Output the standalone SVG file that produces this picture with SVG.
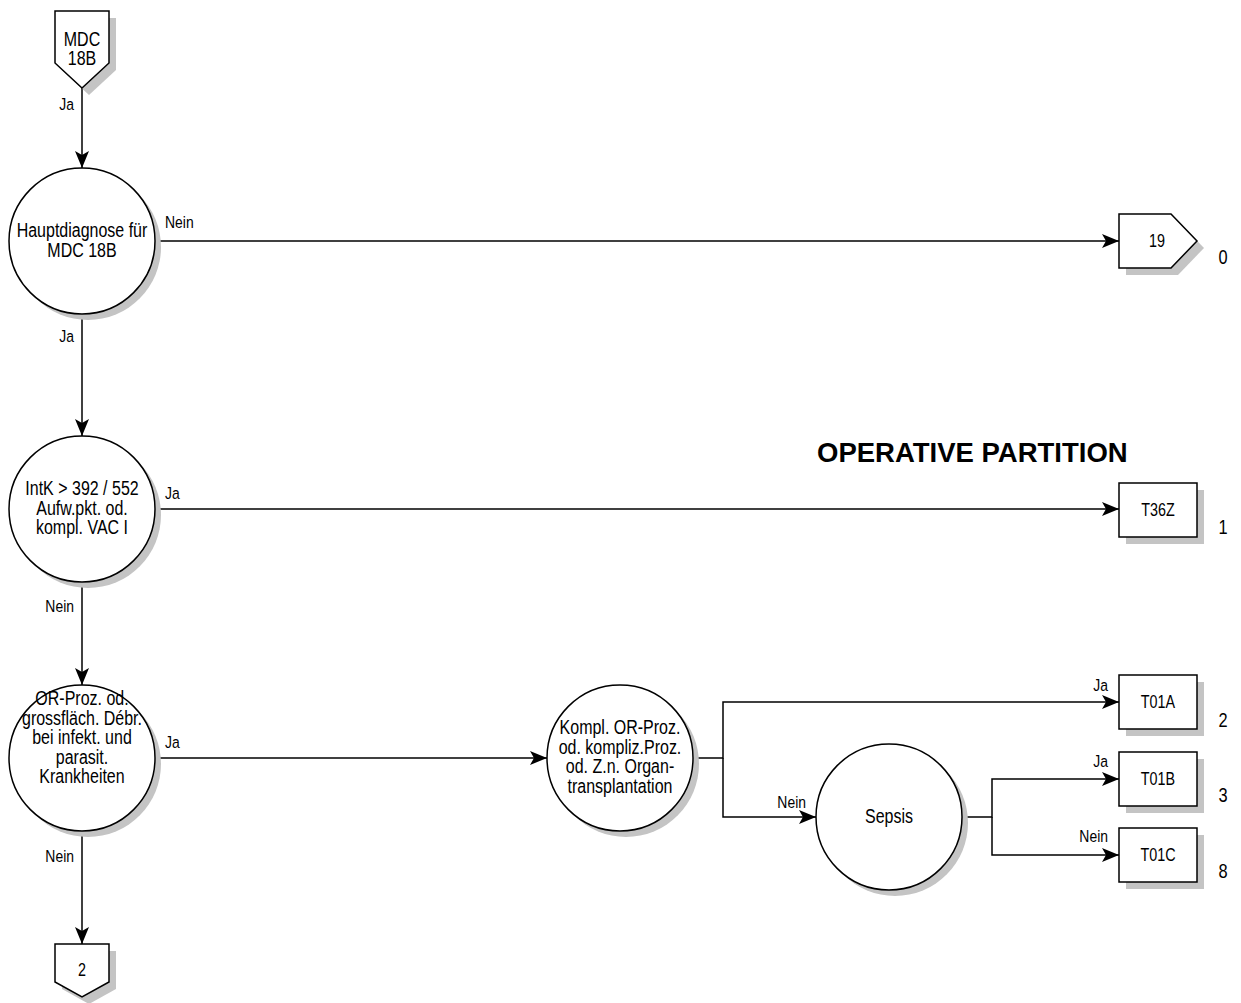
<svg xmlns="http://www.w3.org/2000/svg" width="1241" height="1003" viewBox="0 0 1241 1003">
<defs>
<style>
.n{fill:#fff;stroke:#000;stroke-width:1.5}
.sh{fill:#c4c4c4;stroke:none}
.c{fill:none;stroke:#000;stroke-width:1.5}
text{font-family:"Liberation Sans",Arial,sans-serif;fill:#000}
.t{font-size:19.5px;text-anchor:middle}
.l{font-size:17px}
.e{text-anchor:end}
.b{font-size:17.5px;text-anchor:middle}
.num{font-size:20px;text-anchor:middle}
.title{font-weight:bold;font-size:27.5px}
</style>
<marker id="arr" markerUnits="userSpaceOnUse" markerWidth="20" markerHeight="16" refX="17" refY="7" orient="auto">
<path d="M17,7 L0,0 L4,7 L0,14 Z" fill="#000"/>
</marker>
</defs>
<rect width="1241" height="1003" fill="#fff"/>

<g id="connectors">
<line class="c" x1="82" y1="88" x2="82" y2="168" marker-end="url(#arr)"/>
<line class="c" x1="155" y1="241" x2="1119" y2="241" marker-end="url(#arr)"/>
<line class="c" x1="82" y1="314" x2="82" y2="436" marker-end="url(#arr)"/>
<line class="c" x1="155" y1="509" x2="1119" y2="509" marker-end="url(#arr)"/>
<line class="c" x1="82" y1="582" x2="82" y2="685" marker-end="url(#arr)"/>
<line class="c" x1="155" y1="758" x2="547" y2="758" marker-end="url(#arr)"/>
<line class="c" x1="82" y1="831" x2="82" y2="944" marker-end="url(#arr)"/>
<polyline class="c" points="693,758 723,758 723,702 1119,702" marker-end="url(#arr)"/>
<polyline class="c" points="723,758 723,817 816,817" marker-end="url(#arr)"/>
<polyline class="c" points="962,817 992,817 992,779 1119,779" marker-end="url(#arr)"/>
<polyline class="c" points="992,817 992,855 1119,855" marker-end="url(#arr)"/>
<text class="l e" transform="translate(74,110) scale(0.82,1)">Ja</text>
<text class="l" transform="translate(165,228) scale(0.82,1)">Nein</text>
<text class="l e" transform="translate(74,342) scale(0.82,1)">Ja</text>
<text class="l" transform="translate(165,499) scale(0.82,1)">Ja</text>
<text class="l e" transform="translate(74,612) scale(0.82,1)">Nein</text>
<text class="l" transform="translate(165,748) scale(0.82,1)">Ja</text>
<text class="l e" transform="translate(74,862) scale(0.82,1)">Nein</text>
<text class="l e" transform="translate(1108,691) scale(0.82,1)">Ja</text>
<text class="l e" transform="translate(806,808) scale(0.82,1)">Nein</text>
<text class="l e" transform="translate(1108,767) scale(0.82,1)">Ja</text>
<text class="l e" transform="translate(1108,842) scale(0.82,1)">Nein</text>
</g>

<g id="mdc18b">
<polygon class="sh" points="62,18 116,18 116,70 89,95 62,70"/>
<polygon class="n" points="55,11 109,11 109,63 82,88 55,63"/>
<text class="t" transform="translate(82,46) scale(0.82,1)">MDC</text>
<text class="t" transform="translate(82,65) scale(0.82,1)">18B</text>
</g>

<g id="hauptdiagnose">
<circle class="sh" cx="88" cy="247" r="73"/>
<circle class="n" cx="82" cy="241" r="73"/>
<text class="t" transform="translate(82,237) scale(0.82,1)">Hauptdiagnose für</text>
<text class="t" transform="translate(82,257) scale(0.82,1)">MDC 18B</text>
</g>

<g id="mdc19">
<polygon class="sh" points="1126,221 1178,221 1204,248 1178,275 1126,275"/>
<polygon class="n" points="1119,214 1171,214 1197,241 1171,268 1119,268"/>
<text class="b" transform="translate(1157,247) scale(0.82,1)">19</text>
<text class="num" transform="translate(1223,264) scale(0.82,1)">0</text>
</g>

<g id="intk">
<circle class="sh" cx="88" cy="515" r="73"/>
<circle class="n" cx="82" cy="509" r="73"/>
<text class="t" transform="translate(82,495) scale(0.82,1)">IntK &gt; 392 / 552</text>
<text class="t" transform="translate(82,514.5) scale(0.82,1)">Aufw.pkt. od.</text>
<text class="t" transform="translate(82,534) scale(0.82,1)">kompl. VAC I</text>
</g>

<g id="t36z">
<rect class="sh" x="1126" y="490" width="78" height="54"/>
<rect class="n" x="1119" y="483" width="78" height="54"/>
<text class="b" transform="translate(1158,516) scale(0.82,1)">T36Z</text>
<text class="num" transform="translate(1223,534) scale(0.82,1)">1</text>
</g>

<g id="orproz">
<circle class="sh" cx="88" cy="764" r="73"/>
<circle class="n" cx="82" cy="758" r="73"/>
<text class="t" transform="translate(82,705) scale(0.82,1)">OR-Proz. od.</text>
<text class="t" transform="translate(82,724.5) scale(0.82,1)">grossfläch. Débr.</text>
<text class="t" transform="translate(82,744) scale(0.82,1)">bei infekt. und</text>
<text class="t" transform="translate(82,763.5) scale(0.82,1)">parasit.</text>
<text class="t" transform="translate(82,783) scale(0.82,1)">Krankheiten</text>
</g>

<g id="kompl">
<circle class="sh" cx="626" cy="764" r="73"/>
<circle class="n" cx="620" cy="758" r="73"/>
<text class="t" transform="translate(620,734) scale(0.82,1)">Kompl. OR-Proz.</text>
<text class="t" transform="translate(620,753.5) scale(0.82,1)">od. kompliz.Proz.</text>
<text class="t" transform="translate(620,773) scale(0.82,1)">od. Z.n. Organ-</text>
<text class="t" transform="translate(620,792.5) scale(0.82,1)">transplantation</text>
</g>

<g id="sepsis">
<circle class="sh" cx="895" cy="823" r="73"/>
<circle class="n" cx="889" cy="817" r="73"/>
<text class="t" transform="translate(889,823) scale(0.82,1)">Sepsis</text>
</g>

<g id="t01a">
<rect class="sh" x="1126" y="682" width="78" height="54"/>
<rect class="n" x="1119" y="675" width="78" height="54"/>
<text class="b" transform="translate(1158,708) scale(0.82,1)">T01A</text>
<text class="num" transform="translate(1223,727) scale(0.82,1)">2</text>
</g>

<g id="t01b">
<rect class="sh" x="1126" y="759" width="78" height="54"/>
<rect class="n" x="1119" y="752" width="78" height="54"/>
<text class="b" transform="translate(1158,785) scale(0.82,1)">T01B</text>
<text class="num" transform="translate(1223,802) scale(0.82,1)">3</text>
</g>

<g id="t01c">
<rect class="sh" x="1126" y="835" width="78" height="54"/>
<rect class="n" x="1119" y="828" width="78" height="54"/>
<text class="b" transform="translate(1158,861) scale(0.82,1)">T01C</text>
<text class="num" transform="translate(1223,878) scale(0.82,1)">8</text>
</g>

<g id="mdc2">
<polygon class="sh" points="62,951 116,951 116,989 89,1004 62,989"/>
<polygon class="n" points="55,944 109,944 109,982 82,997 55,982"/>
<text class="b" transform="translate(82,976) scale(0.82,1)">2</text>
</g>

<g id="title">
<text class="title" x="817" y="462">OPERATIVE PARTITION</text>
</g>
</svg>
